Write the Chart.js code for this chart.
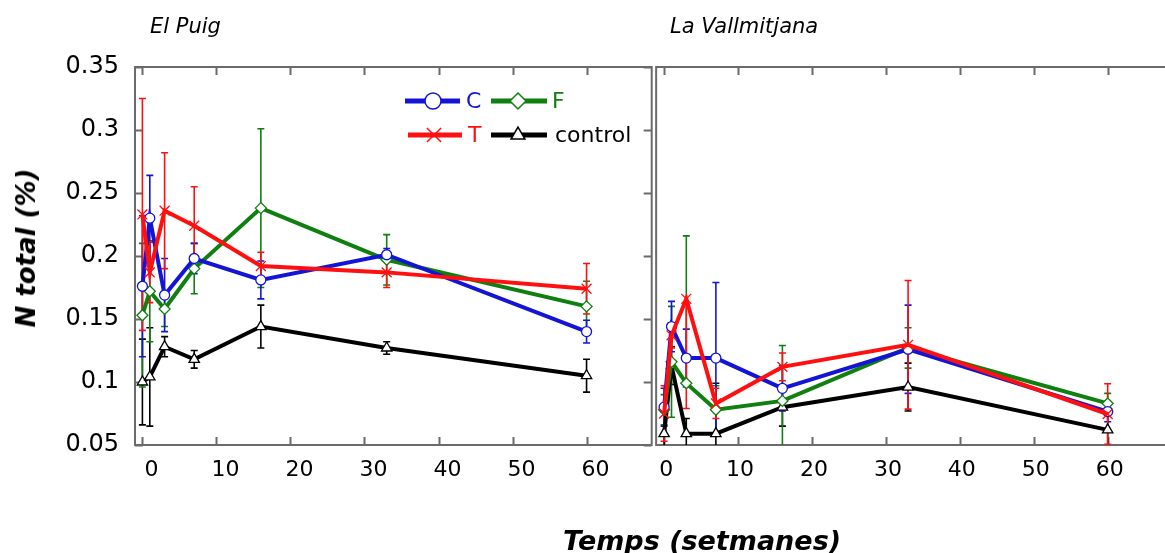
<!DOCTYPE html>
<html><head><meta charset="utf-8">
<script src="https://cdn.jsdelivr.net/npm/chart.js@4.4.0/dist/chart.umd.min.js"></script>
<style>
html,body{margin:0;padding:0;width:1165px;height:553px;overflow:hidden;background:#fff;font-family:'DejaVu Sans',sans-serif;}
#left{position:absolute;left:0;top:0;width:660px;height:553px;}
#right{position:absolute;left:645px;top:0;width:540px;height:553px;}
.t{position:absolute;white-space:nowrap;color:#000;font-family:'DejaVu Sans',sans-serif;}
#ytitle{left:26px;top:248px;transform:translate(-50%,-50%) rotate(-90deg);font-weight:bold;font-style:italic;font-size:26px;}
#xtitle{left:702px;top:540px;transform:translate(-50%,-50%);font-weight:bold;font-style:italic;font-size:27px;}
</style></head><body>
<div id="left"><canvas id="c1"></canvas></div>
<div id="right"><canvas id="c2"></canvas></div>
<div class="t" style="left:150px;top:14px;font-style:italic;font-size:21px;">El Puig</div>
<div class="t" style="left:670px;top:14px;font-style:italic;font-size:21px;">La Vallmitjana</div>
<div class="t" id="ytitle">N total (%)</div>
<div class="t" id="xtitle">Temps (setmanes)</div>
<script>
// ---- data ----
const weeks = [0, 1, 3, 7, 16, 33, 60];
const xTicks = [0, 10, 20, 30, 40, 50, 60];
const yTicks = [0.05, 0.1, 0.15, 0.2, 0.25, 0.3, 0.35];
const yTickLabels = ['0.05', '0.1', '0.15', '0.2', '0.25', '0.3', '0.35'];
const seriesNames = ['C', 'F', 'T', 'control'];

// El Puig
const puigC = [0.176, 0.230, 0.169, 0.198, 0.181, 0.201, 0.140];
const puigCErr = [0.056, 0.034, 0.029, 0.012, 0.015, 0.005, 0.009];
const puigF = [0.153, 0.172, 0.158, 0.190, 0.238, 0.197, 0.160];
const puigFErr = [0.057, 0.040, 0.014, 0.020, 0.063, 0.020, 0.020];
const puigT = [0.233, 0.187, 0.236, 0.224, 0.192, 0.187, 0.174];
const puigTErr = [0.092, 0.024, 0.046, 0.031, 0.011, 0.012, 0.020];
const puigCtl = [0.100, 0.104, 0.128, 0.118, 0.144, 0.127, 0.105];
const puigCtlErr = [0.034, 0.039, 0.008, 0.007, 0.017, 0.005, 0.013];

// La Vallmitjana  (error: number = symmetric, [down, up] = one-sided)
const vallC = [0.080, 0.144, 0.119, 0.119, 0.095, 0.126, 0.0765];
const vallCErr = [0.015, 0.020, 0.023, 0.060, 0.018, 0.035, 0.008];
const vallF = [0.078, 0.116, 0.099, 0.078, 0.085, 0.127, 0.083];
const vallFErr = [0.012, 0.044, [0, 0.117], 0.019, 0.044, 0.016, 0.008];
const vallT = [0.075, 0.137, 0.166, 0.083, 0.112, 0.1295, 0.0746];
const vallTErr = [0.022, 0.010, [0.087, 0], 0.012, 0.011, 0.051, 0.024];
const vallCtl = [0.059, 0.113, 0.059, 0.059, 0.080, 0.096, 0.062];
const vallCtlErr = [0.017, 0.015, 0.012, 0.040, 0.015, 0.019, 0.020];

// ---- styles ----
const BLUE = '#1414d6', GREEN = '#0f7f0f', RED = '#ff1010', BLACK = '#000000';
const FRAME = '#6b6b6b';
Chart.defaults.font.family = "'DejaVu Sans', sans-serif";
Chart.defaults.color = '#000';

const styleC = {color: BLUE, pointStyle: 'circle', r: 5};
const styleF = {color: GREEN, pointStyle: 'rectRot', r: 5.5};
const styleT = {color: RED, pointStyle: 'crossRot', r: 7};
const styleCtl = {color: BLACK, pointStyle: 'triangle', r: 6};

function ds(label, vals, errs, st) {
  return {
    label, data: weeks.map((w, i) => ({x: w, y: vals[i]})), errorBars: errs,
    borderColor: st.color, backgroundColor: '#fff', borderWidth: 4, tension: 0,
    pointStyle: st.pointStyle, pointRadius: st.r, pointBorderWidth: 1.3,
    pointBorderColor: st.color, pointBackgroundColor: '#fff'
  };
}

const errorBarPlugin = {
  id: 'errorBars',
  beforeDatasetsDraw(chart) {
    const {ctx, chartArea: a, scales: {x, y}} = chart;
    ctx.save();
    ctx.beginPath(); ctx.rect(a.left, a.top, a.width, a.height); ctx.clip();
    chart.data.datasets.slice().reverse().forEach(d => {
      if (!d.errorBars) return;
      ctx.strokeStyle = d.borderColor; ctx.lineWidth = 1.6;
      d.data.forEach((p, i) => {
        const e = d.errorBars[i]; if (e == null) return;
        const lo = Array.isArray(e) ? e[0] : e, hi = Array.isArray(e) ? e[1] : e;
        const px = x.getPixelForValue(p.x);
        const y0 = y.getPixelForValue(p.y - lo), y1 = y.getPixelForValue(p.y + hi);
        ctx.beginPath(); ctx.moveTo(px, y0); ctx.lineTo(px, y1);
        if (lo > 0) { ctx.moveTo(px - 3.5, y0); ctx.lineTo(px + 3.5, y0); }
        if (hi > 0) { ctx.moveTo(px - 3.5, y1); ctx.lineTo(px + 3.5, y1); }
        ctx.stroke();
      });
    });
    ctx.restore();
  }
};

const framePlugin = {
  id: 'frame',
  beforeDatasetsDraw(chart, args, opts) {
    const {ctx, chartArea: a, scales: {x, y}} = chart;
    ctx.save();
    ctx.strokeStyle = FRAME; ctx.lineWidth = 2;
    ctx.strokeRect(a.left, a.top, a.right - a.left, a.bottom - a.top);
    ctx.beginPath();
    xTicks.forEach(v => {
      const px = Math.round(x.getPixelForValue(v)) + 0.5;
      ctx.moveTo(px, a.bottom); ctx.lineTo(px, a.bottom - 8);
      ctx.moveTo(px, a.top); ctx.lineTo(px, a.top + 8);
    });
    yTicks.forEach(v => {
      const py = Math.round(y.getPixelForValue(v)) + 0.5;
      if (opts.leftTicks) { ctx.moveTo(a.left, py); ctx.lineTo(a.left + 8, py); }
      if (opts.rightTicks) { ctx.moveTo(a.right, py); ctx.lineTo(a.right - 8, py); }
    });
    ctx.stroke();
    ctx.restore();
  }
};

const legendItems = [
  {name: seriesNames[0], st: styleC, x1: 405, x2: 460, mx: 433, y: 101, tx: 466, r: 8},
  {name: seriesNames[1], st: styleF, x1: 491, x2: 547, mx: 518, y: 101, tx: 552, r: 8},
  {name: seriesNames[2], st: styleT, x1: 408, x2: 462, mx: 434, y: 135, tx: 468, r: 10},
  {name: seriesNames[3], st: styleCtl, x1: 491, x2: 547, mx: 518, y: 135, tx: 555, r: 8}
];
const legendPlugin = {
  id: 'customLegend',
  afterDatasetsDraw(chart, args, opts) {
    if (!opts.show) return;
    const ctx = chart.ctx;
    ctx.save();
    legendItems.forEach(it => {
      ctx.strokeStyle = it.st.color; ctx.lineWidth = 5;
      ctx.beginPath(); ctx.moveTo(it.x1, it.y); ctx.lineTo(it.x2, it.y); ctx.stroke();
      ctx.fillStyle = '#fff'; ctx.strokeStyle = it.st.color; ctx.lineWidth = 1.5;
      Chart.helpers.drawPoint(ctx, {pointStyle: it.st.pointStyle, radius: it.r, borderWidth: 1.5, rotation: 0}, it.mx, it.y);
      ctx.fillStyle = it.st.color;
      ctx.font = "22px 'DejaVu Sans'";
      ctx.textBaseline = 'middle'; ctx.textAlign = 'left';
      ctx.fillText(it.name, it.tx, it.y + 1);
    });
    ctx.restore();
  }
};

function makeChart(id, sets, cfg) {
  return new Chart(document.getElementById(id), {
    type: 'line',
    data: {datasets: [
      ds(seriesNames[2], sets.T, sets.TErr, styleT),
      ds(seriesNames[0], sets.C, sets.CErr, styleC),
      ds(seriesNames[1], sets.F, sets.FErr, styleF),
      ds(seriesNames[3], sets.Ctl, sets.CtlErr, styleCtl)
    ]},
    options: {
      responsive: true, maintainAspectRatio: false, animation: false, devicePixelRatio: 1,
      layout: {padding: cfg.padding},
      plugins: {legend: {display: false}, tooltip: {enabled: false},
        frame: {leftTicks: cfg.leftTicks, rightTicks: cfg.rightTicks}, customLegend: {show: cfg.legend}},
      scales: {
        x: {
          type: 'linear', min: cfg.xmin, max: cfg.xmax,
          grid: {display: false, drawTicks: false}, border: {display: false},
          afterBuildTicks: s => { s.ticks = xTicks.map(v => ({value: v})); },
          afterFit: s => { s.height = 40; },
          ticks: {font: {size: 22}, padding: 12, labelOffset: cfg.labelOffset, maxRotation: 0, autoSkip: false,
            callback: v => String(v)}
        },
        y: {
          type: 'linear', min: 0.05, max: 0.35, display: cfg.showY,
          grid: {display: false, drawTicks: false}, border: {display: false},
          afterBuildTicks: s => { s.ticks = yTicks.map(v => ({value: v})); },
          afterFit: s => { s.width = cfg.showY ? 135 : 0; },
          ticks: {font: {size: 24}, padding: 16, autoSkip: false,
            callback: (v, i) => yTickLabels[i]}
        }
      }
    },
    plugins: [framePlugin, errorBarPlugin, legendPlugin]
  });
}

makeChart('c1', {C: puigC, CErr: puigCErr, F: puigF, FErr: puigFErr, T: puigT, TErr: puigTErr, Ctl: puigCtl, CtlErr: puigCtlErr},
  {padding: {left: 0, right: 8, top: 67, bottom: 68}, xmin: -1, xmax: 68.8, labelOffset: 9, showY: true, leftTicks: true, rightTicks: true, legend: true});
makeChart('c2', {C: vallC, CErr: vallCErr, F: vallF, FErr: vallFErr, T: vallT, TErr: vallTErr, Ctl: vallCtl, CtlErr: vallCtlErr},
  {padding: {left: 8, right: 13, top: 67, bottom: 68}, xmin: -1.08, xmax: 68.7, labelOffset: 2, showY: false, leftTicks: false, rightTicks: false, legend: false});
</script>
</body></html>
